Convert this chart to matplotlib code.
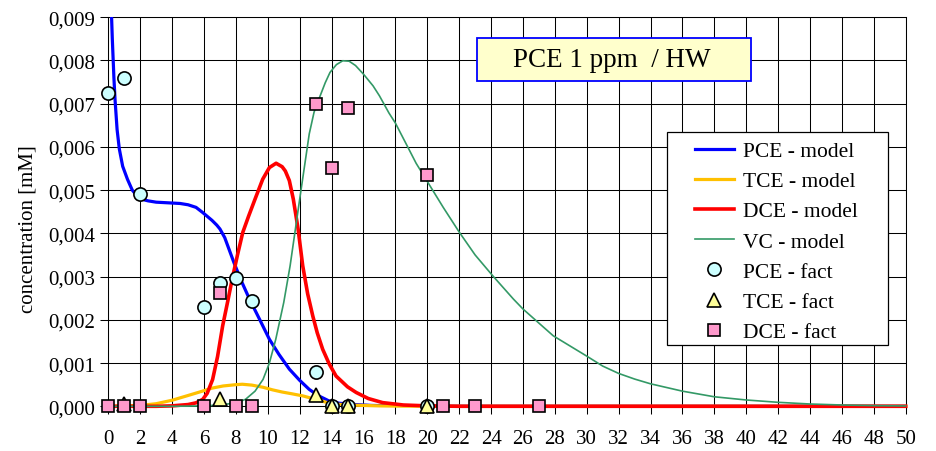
import numpy as np
import matplotlib
matplotlib.use("Agg")
import matplotlib.pyplot as plt
from matplotlib.patches import Rectangle
from matplotlib.ticker import FuncFormatter

plt.rcParams['font.family'] = ['Liberation Serif', 'DejaVu Serif']

# model curves (days, mM)
pce_mx = [0.1, 0.15, 0.25, 0.35, 0.42, 0.55, 0.69, 0.9, 1.2, 1.5, 1.95, 2.5, 3.0, 4.0, 4.5,
          5.0, 5.5, 5.92, 6.5, 6.8, 7.0, 7.3, 7.6, 7.9, 8.4, 8.85, 9.5, 10.1, 10.7, 11.35,
          12.0, 12.6, 13.2, 13.86, 14.5, 15.5, 16.5, 18.0, 20.0, 25.0, 50.0]
pce_my = [0.0098, 0.0096, 0.0085, 0.0076, 0.0071, 0.0064, 0.00595, 0.00555, 0.00525, 0.005,
          0.0048, 0.00475, 0.00472, 0.0047, 0.00469, 0.00466, 0.0046, 0.00448, 0.0043, 0.00419,
          0.0041, 0.0039, 0.0036, 0.0033, 0.00285, 0.00248, 0.002, 0.00155, 0.0012, 0.00086,
          0.0006, 0.00039, 0.00024, 0.00012, 0.00007, 0.00004, 0.00002, 0.000008, 0.000003,
          0.0, 0.0]

tce_mx = [0, 2, 3, 4, 5, 5.9, 6.5, 7.2, 8.0, 8.4, 9.0, 9.7, 10.3, 10.9, 11.5, 12.2, 12.8,
          13.4, 14, 15, 16, 17, 18, 20, 50]
tce_my = [0.0, 0.00002, 0.00006, 0.00014, 0.00025, 0.00035, 0.00042, 0.00047, 0.0005, 0.00051,
          0.00049, 0.00044, 0.00038, 0.00033, 0.00029, 0.00024, 0.00018, 0.00012, 0.00006,
          0.00003, 0.00002, 0.00001, 0.000005, 0.000001, 0.0]

dce_mx = [0, 3, 4, 5, 5.5, 5.92, 6.2, 6.54, 6.85, 7.17, 7.5, 7.8, 8.1, 8.43, 8.8, 9.2, 9.68,
          10.1, 10.52, 10.9, 11.1, 11.35, 11.6, 11.9, 12.19, 12.5, 12.82, 13.1, 13.44, 13.85,
          14.28, 15.0, 15.54, 16.3, 17.2, 18.5, 20, 22, 50]
dce_my = [0.0, 0.0, 0.00001, 0.00004, 0.00008, 0.00016, 0.0003, 0.00062, 0.00115, 0.00186,
          0.00245, 0.003, 0.0035, 0.00402, 0.0044, 0.00479, 0.00525, 0.00552, 0.00562, 0.00554,
          0.00544, 0.00522, 0.00479, 0.0041, 0.00325, 0.0026, 0.00209, 0.0017, 0.00132, 0.00098,
          0.0007, 0.00045, 0.00032, 0.00018, 0.000085, 0.00003, 0.00001, 0.0, 0.0]

vc_mx = [0, 4, 6, 7, 8, 8.6, 9.2, 9.7, 10.1, 10.5, 11.0, 11.4, 12.0, 12.6, 12.9, 13.2, 13.6,
         13.9, 14.3, 14.7, 15.1, 15.5, 16.0, 16.6, 17.0, 17.6, 18.0, 18.7, 19.3, 20.0, 21.0,
         22.0, 23.0, 24.1, 25.4, 26.0, 27.9, 30.0, 31.0, 32.0, 33.0, 34.0, 36.0, 38.0, 40, 42,
         44, 46, 48, 50]
vc_my = [0.0, 0.0, 0.00001, 0.00003, 0.00008, 0.00016, 0.00035, 0.00062, 0.001, 0.00155,
         0.0024, 0.00325, 0.00479, 0.0063, 0.0068, 0.0071, 0.00748, 0.00772, 0.0079, 0.00799,
         0.00798, 0.00788, 0.00768, 0.00741, 0.00718, 0.00678, 0.00655, 0.00605, 0.00562,
         0.0052, 0.0046, 0.00403, 0.0035, 0.00302, 0.00248, 0.00225, 0.00163, 0.00116, 0.00093,
         0.00076, 0.00063, 0.00052, 0.00035, 0.00022, 0.000146, 0.000092, 0.000053, 0.00003,
         0.000015, 0.000008]

# measured values
pce_days = [0, 1, 2, 6, 7, 8, 9, 13, 14, 15, 20]
pce_vals = [0.00725, 0.0076, 0.0049, 0.0023, 0.00285, 0.00297, 0.00243, 0.0008, 0, 0, 0]
tce_days = [1, 7, 13, 14, 15, 20]
tce_vals = [0.00005, 0.00017, 0.00026, 0, 0, 0]
dce_days = [0, 1, 2, 6, 7, 8, 9, 13, 14, 15, 20, 21, 23, 27]
dce_vals = [0, 0, 0, 0, 0.00263, 0, 0, 0.00698, 0.00551, 0.00689, 0.00534, 0, 0, 0]

x_ticks = list(range(0, 51, 2))
y_ticks = [0.000, 0.001, 0.002, 0.003, 0.004, 0.005, 0.006, 0.007, 0.008, 0.009]

fs = 15.5

fig = plt.figure(figsize=(9.37, 4.52), dpi=100)
ax = fig.add_axes([0.1156, 0.0989, 0.9666 - 0.1156, 0.960 - 0.0989])

ax.plot(pce_mx, pce_my, color='#0000FF', lw=2.3, label='PCE - model', zorder=3)
ax.plot(tce_mx, tce_my, color='#FFC000', lw=2.3, label='TCE - model', zorder=3, clip_on=False)
ax.plot(dce_mx, dce_my, color='#FF0000', lw=2.6, label='DCE - model', zorder=3, clip_on=False)
ax.plot(vc_mx, vc_my, color='#339966', lw=1.2, label='VC - model', zorder=3, clip_on=False)

ax.plot(pce_days, pce_vals, 'o', ms=9.5, mfc='#CCFFFF', mec='black', mew=1.2,
        label='PCE - fact', zorder=4, clip_on=False)
ax.plot(tce_days, tce_vals, '^', ms=9.5, mfc='#FFFF99', mec='black', mew=1.2,
        label='TCE - fact', zorder=4, clip_on=False)
ax.plot(dce_days, dce_vals, 's', ms=8, mfc='#FF99CC', mec='black', mew=1.2,
        label='DCE - fact', zorder=4, clip_on=False)

ax.set_xlim(0, 50)
ax.set_ylim(0, 0.009)
ax.set_xticks(x_ticks)
ax.set_yticks(y_ticks)
ax.yaxis.set_major_formatter(FuncFormatter(lambda v, p: f'{v:.3f}'.replace('.', ',')))
ax.tick_params(axis='both', labelsize=15, direction='out', length=5.5, width=0.75, color='black')
ax.tick_params(axis='x', pad=11)
ax.tick_params(axis='y', pad=4)
ax.grid(True, color='black', lw=0.75)
ax.set_axisbelow(True)
for s in ax.spines.values():
    s.set_color('black')
    s.set_linewidth(0.75)

fig.text(28 / 937, 1 - 229.5 / 452, 'concentration [mM]', rotation=90, ha='center', va='center',
         fontsize=15)

# title box
ax.add_patch(Rectangle((0.4624, 0.8356), 0.3436, 0.1104, transform=ax.transAxes,
                       facecolor='#FFFFCC', edgecolor='#0000FF', lw=1.3, zorder=6))
ax.text(0.6313, 0.875, 'PCE 1 ppm  / HW', transform=ax.transAxes, ha='center', va='baseline',
        fontsize=19.5, zorder=7)

# legend frame drawn separately, legend itself frameless
ax.add_patch(Rectangle((0.701, 0.158), 0.2764, 0.5458, transform=ax.transAxes,
                       facecolor='white', edgecolor='black', lw=0.9, zorder=6))
leg = ax.legend(loc='upper left', bbox_to_anchor=(0.7358, 0.6815), frameon=False, fontsize=fs,
                borderpad=0, borderaxespad=0, handlelength=1.8, handletextpad=0.42,
                labelspacing=0.47)
leg.set_zorder(7)

fig.savefig('out.png', dpi=100)
